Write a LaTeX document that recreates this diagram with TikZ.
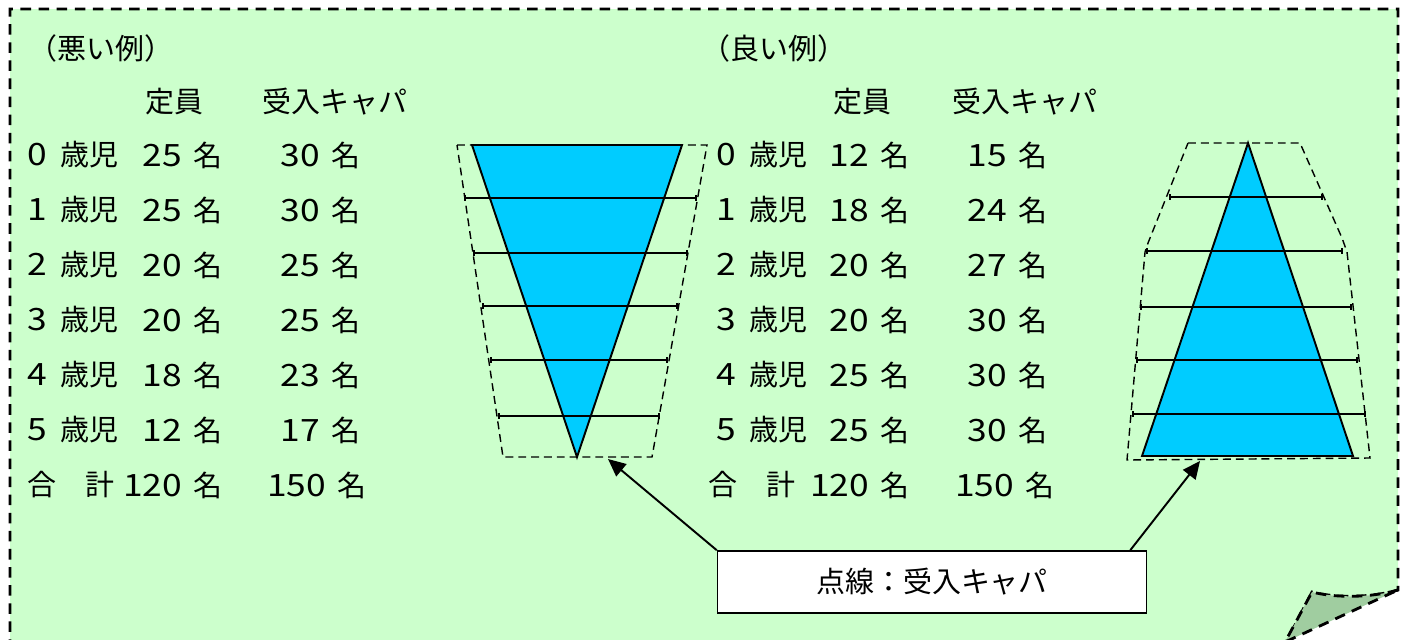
\documentclass[tikz,border=0pt]{standalone}
\usepackage{fontspec}
\setmainfont{Noto Sans CJK JP}
\newfontfamily\digitfont[FakeStretch=1.15]{Noto Sans CJK JP}
\usetikzlibrary{positioning,arrows.meta}
\definecolor{paper}{RGB}{204,255,204}
\definecolor{fold}{RGB}{160,205,160}
\definecolor{pyramid}{RGB}{0,204,255}
\newcommand{\dgt}[1]{{\digitfont\fontsize{17.5}{20}\selectfont #1}}
\newcommand{\cnt}[1]{\dgt{#1}\hspace{0.4em}名}
\newcommand{\age}[1]{\dgt{#1}\hspace{0.45em}歳児}

\begin{document}
\begin{tikzpicture}[x=0.02cm, y=-0.02cm,
    txt/.style={inner sep=0pt, font=\fontsize{16.5}{20}\selectfont},
    sheet/.style={dash pattern=on 6pt off 4.3pt, line width=1.6pt},
    capline/.style={dash pattern=on 4.5pt off 2.8pt, line width=0.8pt},
    bar/.style={line width=1pt, {Bar[width=3pt]}-{Bar[width=3pt]}},
    tri/.style={fill=pyramid, draw, line width=1.1pt},
    pointer/.style={-{Triangle[length=10pt,width=9pt]}, line width=1.1pt}]

\useasboundingbox (0,0) rectangle (1408,639);

% sheet with the turned-up corner
\draw[sheet, fill=paper] (10,650) -- (10,9) -- (1398,9) -- (1398,590)
    .. controls (1370,598) and (1335,598) .. (1312,592) -- (1282,650);
\draw[sheet, fill=fold] (1398,590) .. controls (1370,598) and (1335,598) .. (1312,592)
    -- (1285,642) -- cycle;

% bad example
\node[txt, anchor=west] (badtitle) at (28,48) {（悪い例）};
\node[txt, anchor=west] (badquota) at (145,102) {定員};
\node[txt, anchor=west] (badcapa) at (262,102) {受入キャパ};
\foreach \i/\q/\c in {0/25/30, 1/25/30, 2/20/25, 3/20/25, 4/18/23, 5/12/17}{
  \node[txt, anchor=west] (bad\i) at (27,{155+55*\i}) {\age{\i}};
  \node[txt, anchor=east] (badq\i) at (223,{155+55*\i}) {\cnt{\q}};
  \node[txt, anchor=east] (badc\i) at (361,{155+55*\i}) {\cnt{\c}};
}
\node[txt, anchor=west] (badsum) at (27,485) {合　計};
\node[txt, anchor=east] (badsumq) at (223,485) {\cnt{120}};
\node[txt, anchor=east] (badsumc) at (367,485) {\cnt{150}};

\draw[capline] (457,145) -- (707,145) -- (652,457) -- (503,457) -- cycle;
\draw[tri] (472,145) -- (682,145) -- (577,457) -- cycle;
\foreach \y/\a/\b in {198/464/697, 253/473/688, 306/482/678, 360/490/668, 416/498/660}
  \draw[bar] (\a,\y) -- (\b,\y);
\coordinate (badcap) at (608,459);

% good example
\node[txt, anchor=west] (goodtitle) at (701,48) {（良い例）};
\node[txt, anchor=west] (goodquota) at (833,102) {定員};
\node[txt, anchor=west] (goodcapa) at (952,102) {受入キャパ};
\foreach \i/\q/\c in {0/12/15, 1/18/24, 2/20/27, 3/20/30, 4/25/30, 5/25/30}{
  \node[txt, anchor=west] (good\i) at (716,{155+55*\i}) {\age{\i}};
  \node[txt, anchor=east] (goodq\i) at (910,{155+55*\i}) {\cnt{\q}};
  \node[txt, anchor=east] (goodc\i) at (1048,{155+55*\i}) {\cnt{\c}};
}
\node[txt, anchor=west] (goodsum) at (708,485) {合　計};
\node[txt, anchor=east] (goodsumq) at (910,485) {\cnt{120}};
\node[txt, anchor=east] (goodsumc) at (1055,485) {\cnt{150}};

\draw[capline] (1188,143) -- (1300,143) -- (1342,238) -- (1347,252) -- (1370,458)
    -- (1127,460) -- (1145,252) -- (1148,243) -- cycle;
\draw[tri] (1248,143) -- (1353,456) -- (1142,456) -- cycle;
\foreach \y/\a/\b in {197/1169/1323, 251/1146/1343, 307/1140/1352, 360/1136/1358, 414/1132/1366}
  \draw[bar] (\a,\y) -- (\b,\y);
\coordinate (goodcap) at (1200,461);

% legend
\node[txt, draw, fill=white, line width=0.9pt, minimum width=8.58cm, minimum height=1.24cm]
    (note) at (932,582) {点線：受入キャパ};
\draw[pointer] (note.north west) -- (badcap);
\draw[pointer] ([xshift=-0.34cm]note.north east) -- (goodcap);
\end{tikzpicture}
\end{document}
